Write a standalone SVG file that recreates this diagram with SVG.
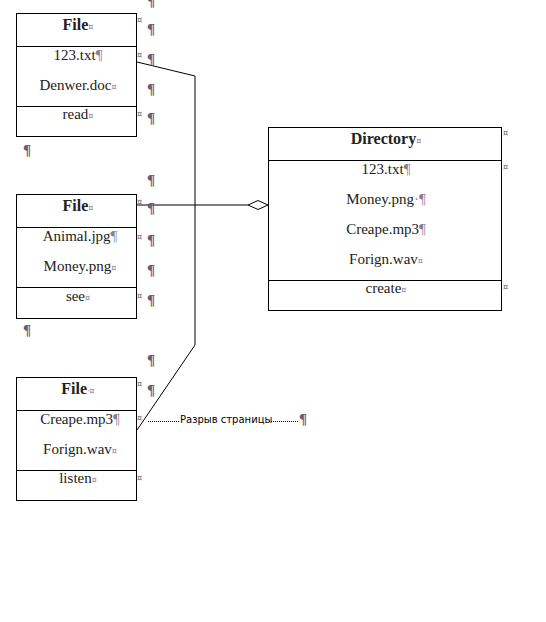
<svg xmlns="http://www.w3.org/2000/svg" width="546" height="622" viewBox="0 0 546 622">
<style>
.box{fill:#fff;stroke:#000;stroke-width:1}
.div{stroke:#000;stroke-width:1}
.t{font-family:"Liberation Serif","Times New Roman",serif;font-size:15px;fill:#222;text-anchor:middle}
.h{font-weight:bold;font-size:16px}
.m{fill:#8a7d90}
.s{font-family:"DejaVu Sans",sans-serif;font-size:8px;font-weight:normal;fill:#8a7d90}
.c{font-family:"DejaVu Sans",sans-serif;font-size:8px;fill:#6e5a78}
.p{font-family:"Liberation Serif",serif;font-size:15px;font-weight:bold;fill:#6e5a78}
.cn{fill:none;stroke:#000;stroke-width:1}
.pb{font-family:"DejaVu Sans","Liberation Sans",sans-serif;font-size:10px;fill:#000}
.dot{stroke:#000;stroke-width:1;stroke-dasharray:1,1}
</style>
<rect width="546" height="622" fill="#fff"/>
<g id="file1">
<rect class="box" x="16.5" y="13.5" width="120" height="123"/>
<line class="div" x1="16" y1="46.5" x2="137" y2="46.5"/>
<line class="div" x1="16" y1="106.5" x2="137" y2="106.5"/>
<text class="t h" x="78" y="30">File<tspan class="s">¤</tspan></text>
<text class="t" x="78" y="60">123.txt<tspan class="m">¶</tspan></text>
<text class="t" x="78" y="90">Denwer.doc<tspan class="s">¤</tspan></text>
<text class="t" x="78" y="119">read<tspan class="s">¤</tspan></text>
</g>
<g id="file2">
<rect class="box" x="16.5" y="194.5" width="120" height="124"/>
<line class="div" x1="16" y1="227.5" x2="137" y2="227.5"/>
<line class="div" x1="16" y1="287.5" x2="137" y2="287.5"/>
<text class="t h" x="78" y="211">File<tspan class="s">¤</tspan></text>
<text class="t" x="80" y="241">Animal.jpg<tspan class="m">¶</tspan></text>
<text class="t" x="80" y="271">Money.png<tspan class="s">¤</tspan></text>
<text class="t" x="78" y="301">see<tspan class="s">¤</tspan></text>
</g>
<g id="file3">
<rect class="box" x="16.5" y="377.5" width="120" height="123"/>
<line class="div" x1="16" y1="410.5" x2="137" y2="410.5"/>
<line class="div" x1="16" y1="470.5" x2="137" y2="470.5"/>
<text class="t h" x="78" y="394">File<tspan class="s">·¤</tspan></text>
<text class="t" x="80" y="424">Creape.mp3<tspan class="m">¶</tspan></text>
<text class="t" x="80" y="454">Forign.wav<tspan class="s">¤</tspan></text>
<text class="t" x="78" y="483">listen<tspan class="s">¤</tspan></text>
</g>
<g id="directory">
<rect class="box" x="268.5" y="127.5" width="233" height="183"/>
<line class="div" x1="268" y1="160.5" x2="502" y2="160.5"/>
<line class="div" x1="268" y1="280.5" x2="502" y2="280.5"/>
<text class="t h" x="386" y="144">Directory<tspan class="s">¤</tspan></text>
<text class="t" x="386" y="174">123.txt<tspan class="m">¶</tspan></text>
<text class="t" x="386" y="204">Money.png<tspan class="m">·¶</tspan></text>
<text class="t" x="386" y="234">Creape.mp3<tspan class="m">¶</tspan></text>
<text class="t" x="386" y="264">Forign.wav<tspan class="s">¤</tspan></text>
<text class="t" x="386" y="293">create<tspan class="s">¤</tspan></text>
</g>
<g id="connectors">
<polyline class="cn" points="137,62 195,76 195,345 137,430"/>
<line class="cn" x1="137" y1="205" x2="248" y2="205"/>
<polygon points="248,205 258,200.5 268,205 258,209.5" fill="#fff" stroke="#000" stroke-width="1"/>
</g>
<g id="marks">
<text class="p" x="147" y="6">¶</text>
<text class="c" x="137" y="23">¤</text><text class="p" x="147" y="34">¶</text>
<text class="c" x="137" y="58">¤</text><text class="p" x="147" y="64">¶</text>
<text class="p" x="147" y="94">¶</text>
<text class="c" x="137" y="117">¤</text><text class="p" x="147" y="123">¶</text>
<text class="p" x="23" y="155">¶</text>
<text class="p" x="147" y="185">¶</text>
<text class="c" x="137" y="205">¤</text><text class="p" x="147" y="213">¶</text>
<text class="c" x="137" y="240">¤</text><text class="p" x="147" y="245">¶</text>
<text class="p" x="147" y="275">¶</text>
<text class="c" x="137" y="299">¤</text><text class="p" x="147" y="305">¶</text>
<text class="p" x="23" y="335">¶</text>
<text class="p" x="147" y="365">¶</text>
<text class="c" x="137" y="387">¤</text><text class="p" x="147" y="395">¶</text>
<text class="c" x="137" y="421">¤</text>
<text class="c" x="137" y="481">¤</text>
<text class="c" x="503" y="136">¤</text>
<text class="c" x="503" y="170">¤</text>
<text class="c" x="503" y="290">¤</text>
</g>
<g id="pagebreak">
<line class="dot" x1="148" y1="421.5" x2="179" y2="421.5"/>
<text class="pb" x="180" y="423">Разрыв страницы</text>
<line class="dot" x1="269" y1="421.5" x2="299" y2="421.5"/>
<text class="p" x="299" y="424">¶</text>
</g>
</svg>
